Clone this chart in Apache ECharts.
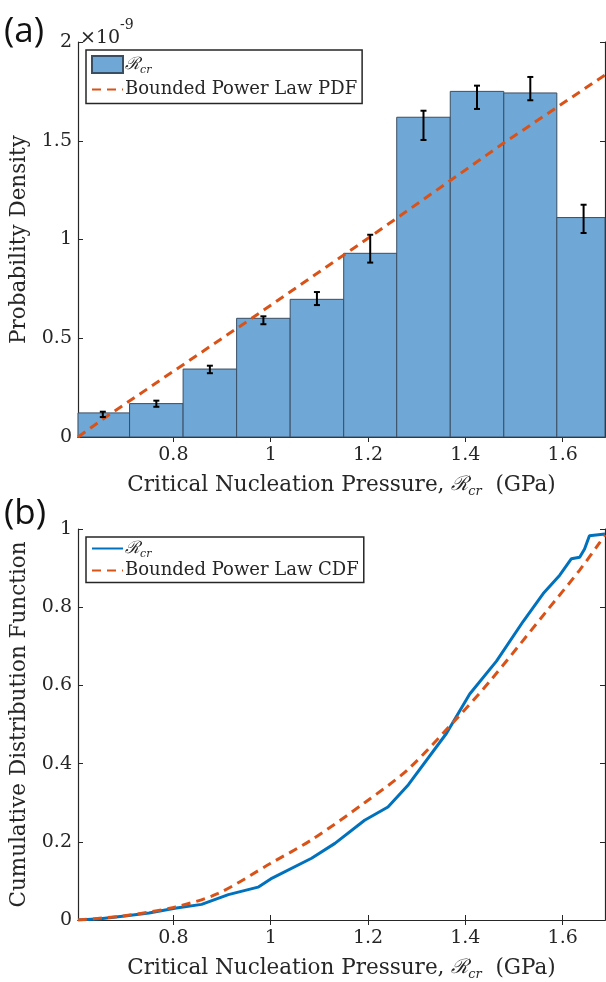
<!DOCTYPE html>
<html>
<head>
<meta charset="utf-8">
<script src="https://cdn.jsdelivr.net/npm/echarts@6/dist/echarts.min.js"></script>
<style>
  html, body { margin: 0; padding: 0; background: #fff; }
  #chart { width: 606px; height: 982px; }
</style>
</head>
<body>
<div id="chart"></div>
<script>
// histogram (units of 1e-9)
const binEdges = [0.600, 0.710, 0.820, 0.930, 1.040, 1.150, 1.259, 1.369, 1.479, 1.588, 1.698];
const binHeights = [0.122, 0.169, 0.344, 0.601, 0.697, 0.930, 1.619, 1.750, 1.742, 1.111];
const errLow = [0.101, 0.153, 0.323, 0.571, 0.668, 0.883, 1.504, 1.661, 1.705, 1.033];
const errHigh = [0.128, 0.184, 0.361, 0.611, 0.734, 1.024, 1.652, 1.779, 1.823, 1.176];

// bounded power law pdf
const pdfX = [0.604, 0.667, 0.961, 1.200, 1.478, 1.687];
const pdfY = [0, 0.111, 0.601, 1.006, 1.487, 1.833];

// empirical cdf
const cdfX = [0.604, 0.65, 0.70, 0.75, 0.803, 0.858, 0.913, 0.974, 1.0, 1.084, 1.132, 1.193, 1.241,
  1.283, 1.361, 1.409, 1.464, 1.519, 1.560, 1.594, 1.618, 1.635, 1.645, 1.655, 1.659, 1.687];
const cdfY = [0, 0.003, 0.010, 0.018, 0.030, 0.040, 0.065, 0.084, 0.105, 0.158, 0.196, 0.255, 0.289,
  0.346, 0.477, 0.578, 0.662, 0.764, 0.835, 0.882, 0.924, 0.928, 0.949, 0.983, 0.987, 0.987];

// fitted cdf
const fitX = [0.604, 0.694, 0.803, 0.892, 1.0, 1.084, 1.193, 1.282, 1.382, 1.450, 1.567, 1.635, 1.676, 1.687];
const fitY = [0, 0.010, 0.033, 0.068, 0.145, 0.205, 0.300, 0.385, 0.515, 0.610, 0.790, 0.895, 0.965, 0.985];

const xTicks = [0.8, 1, 1.2, 1.4, 1.6];
const XMIN = 0.604, XMAX = 1.687;

const ink = '#262626';
const serif = 'DejaVu Serif';
const barColor = '#6fa8d6';
const orange = '#d95319';
const blue = '#0072bd';

const zip = (a, b) => a.map((v, i) => [v, b[i]]);

const rich = {
  t: { fontFamily: serif, fontSize: 21.5, color: ink, lineHeight: 26 },
  r: { fontFamily: serif, fontStyle: 'italic', fontSize: 20, color: ink, lineHeight: 26 },
  s: { fontFamily: serif, fontStyle: 'italic', fontSize: 13, color: ink, lineHeight: 13, verticalAlign: 'bottom' }
};
const legendRich = {
  t: { fontFamily: serif, fontSize: 18, color: ink, lineHeight: 22 },
  r: { fontFamily: serif, fontStyle: 'italic', fontSize: 17, color: ink, lineHeight: 22 },
  s: { fontFamily: serif, fontStyle: 'italic', fontSize: 11, color: ink, lineHeight: 10, verticalAlign: 'bottom' }
};
const xName = '{t|Critical Nucleation Pressure, }{r|ℛ}{s|cr}{t|  (GPa)}';

function xAxisPair(gridIndex) {
  const base = {
    type: 'value', gridIndex, min: XMIN, max: XMAX,
    splitLine: { show: false },
    axisLine: { lineStyle: { color: ink, width: 1.2 } }
  };
  return [
    Object.assign({}, base, {
      position: 'bottom',
      axisTick: { inside: true, length: 5, customValues: xTicks, lineStyle: { color: ink } },
      axisLabel: { customValues: xTicks, fontFamily: serif, fontSize: 19, color: ink, margin: 9 },
      name: xName, nameLocation: 'middle', nameGap: 35,
      nameTextStyle: { rich }
    }),
    Object.assign({}, base, {
      position: 'top',
      axisTick: { inside: true, length: 5, customValues: xTicks, lineStyle: { color: ink } },
      axisLabel: { show: false }
    })
  ];
}

function yAxisPair(gridIndex, max, interval, name) {
  const base = {
    type: 'value', gridIndex, min: 0, max, interval,
    splitLine: { show: false },
    axisLine: { show: true, lineStyle: { color: ink, width: 1.2 } },
    axisTick: { show: true, inside: true, length: 5, lineStyle: { color: ink } }
  };
  return [
    Object.assign({}, base, {
      position: 'left',
      axisLabel: { fontFamily: serif, fontSize: 19, color: ink, margin: 6 },
      name, nameLocation: 'middle', nameGap: 43,
      nameTextStyle: { fontFamily: serif, fontSize: 21.5, color: ink }
    }),
    Object.assign({}, base, { position: 'right', axisLabel: { show: false } })
  ];
}

const histData = binHeights.map((h, i) => [binEdges[i], binEdges[i + 1], h]);
const errData = binHeights.map((h, i) => [(binEdges[i] + binEdges[i + 1]) / 2, errLow[i], errHigh[i]]);

const legendNames = {
  hist: '{r|ℛ}{s|cr}',
  pdfFit: '{t|Bounded Power Law PDF}',
  cdfEmp: '{r|ℛ}{s|cr}',
  cdfFit: '{t|Bounded Power Law CDF}'
};
const noSymbol = { opacity: 0 };

const chart = echarts.init(document.getElementById('chart'));
chart.setOption({
  animation: false,
  grid: [
    { left: 78, right: 1, top: 42, height: 395 },
    { left: 78, right: 1, top: 529, height: 395 }
  ],
  xAxis: xAxisPair(0).concat(xAxisPair(1)),
  yAxis: yAxisPair(0, 2, 0.5, 'Probability Density').concat(yAxisPair(1, 1, 0.2, 'Cumulative Distribution Function')),
  legend: [
    {
      data: [{ name: 'hist', icon: 'rect' }, { name: 'pdfFit', itemStyle: noSymbol }],
      orient: 'vertical', left: 86, top: 50,
      itemWidth: 31, itemHeight: 17, itemGap: 5,
      padding: [5, 5, 5, 5],
      borderColor: ink, borderWidth: 1.5, backgroundColor: '#fff',
      selectedMode: false,
      formatter: n => legendNames[n],
      textStyle: { rich: legendRich, padding: [0, 0, 0, -3] }
    },
    {
      data: [{ name: 'cdfEmp', itemStyle: noSymbol }, { name: 'cdfFit', itemStyle: noSymbol }],
      orient: 'vertical', left: 86, top: 537,
      itemWidth: 31, itemHeight: 17, itemGap: 2,
      padding: [3, 5, 3, 5],
      borderColor: ink, borderWidth: 1.5, backgroundColor: '#fff',
      selectedMode: false,
      formatter: n => legendNames[n],
      textStyle: { rich: legendRich, padding: [0, 0, 0, -3] }
    }
  ],
  graphic: [
    { type: 'text', left: 4, top: 15, style: { text: '(a)', font: '35px "Open Sans"', fill: '#111' } },
    { type: 'text', left: 4, top: 497, style: { text: '(b)', font: '35px "Open Sans"', fill: '#111' } },
    {
      type: 'text', left: 80, top: 18,
      style: {
        text: '{a|×10}{b|-9}',
        rich: {
          a: { font: '19px "DejaVu Serif"', fill: ink, lineHeight: 30, verticalAlign: 'bottom' },
          b: { font: '14px "DejaVu Serif"', fill: ink, lineHeight: 16, verticalAlign: 'top' }
        }
      }
    }
  ],
  series: [
    {
      name: 'hist', type: 'custom', xAxisIndex: 0, yAxisIndex: 0,
      itemStyle: { color: barColor, borderColor: '#3a4e63', borderWidth: 1 },
      data: histData,
      renderItem: function (params, api) {
        const p0 = api.coord([api.value(0), api.value(2)]);
        const p1 = api.coord([api.value(1), 0]);
        const shape = echarts.graphic.clipRectByRect(
          { x: p0[0], y: p0[1], width: p1[0] - p0[0], height: p1[1] - p0[1] },
          { x: params.coordSys.x, y: params.coordSys.y, width: params.coordSys.width, height: params.coordSys.height }
        );
        return shape && {
          type: 'rect', shape,
          style: { fill: barColor, stroke: '#3a4e63', lineWidth: 1 }
        };
      },
      z: 2
    },
    {
      name: 'pdfFit', type: 'line', xAxisIndex: 0, yAxisIndex: 0,
      data: zip(pdfX, pdfY), symbol: 'none',
      lineStyle: { color: orange, width: 3, type: [9, 6] },
      itemStyle: { color: orange },
      z: 3
    },
    {
      name: 'err', type: 'custom', xAxisIndex: 0, yAxisIndex: 0,
      data: errData,
      renderItem: function (params, api) {
        const lo = api.coord([api.value(0), api.value(1)]);
        const hi = api.coord([api.value(0), api.value(2)]);
        const c = 3;
        const st = { stroke: '#000', lineWidth: 2 };
        return {
          type: 'group',
          children: [
            { type: 'line', shape: { x1: lo[0], y1: lo[1], x2: hi[0], y2: hi[1] }, style: st },
            { type: 'line', shape: { x1: lo[0] - c, y1: lo[1], x2: lo[0] + c, y2: lo[1] }, style: st },
            { type: 'line', shape: { x1: hi[0] - c, y1: hi[1], x2: hi[0] + c, y2: hi[1] }, style: st }
          ]
        };
      },
      z: 4
    },
    {
      name: 'cdfEmp', type: 'line', xAxisIndex: 2, yAxisIndex: 2,
      data: zip(cdfX, cdfY), symbol: 'none',
      lineStyle: { color: blue, width: 3 },
      itemStyle: { color: blue }
    },
    {
      name: 'cdfFit', type: 'line', xAxisIndex: 2, yAxisIndex: 2,
      data: zip(fitX, fitY), symbol: 'none', smooth: 0.3,
      lineStyle: { color: orange, width: 3, type: [9, 6] },
      itemStyle: { color: orange }
    }
  ]
});
</script>
</body>
</html>
